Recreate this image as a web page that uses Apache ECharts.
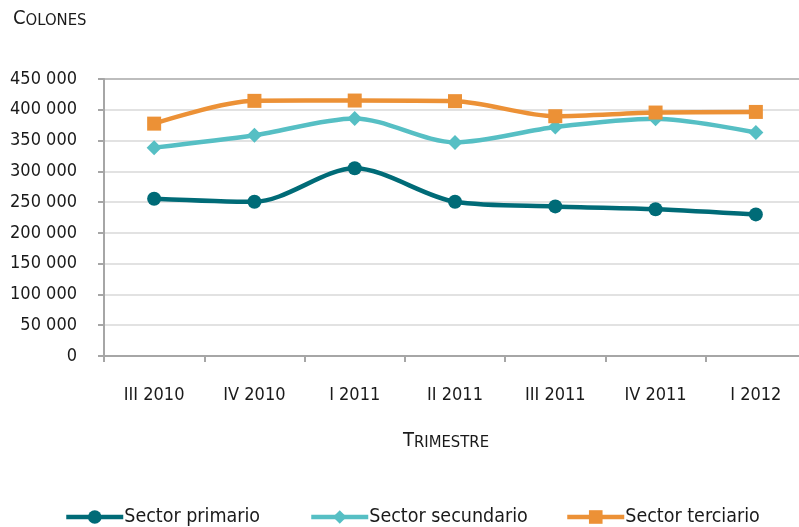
<!DOCTYPE html>
<html>
<head>
<meta charset="utf-8">
<script src="https://cdn.jsdelivr.net/npm/echarts@6/dist/echarts.min.js"></script>
<style>html,body{margin:0;padding:0;background:#fff;overflow:hidden}#c{width:812px;height:527px}</style>
</head>
<body>
<div id="c"></div>
<script>
const categories = ['III 2010','IV 2010','I 2011','II 2011','III 2011','IV 2011','I 2012'];
const primario   = [255500, 250500, 305000, 250500, 243000, 238500, 230000];
const secundario = [338500, 358500, 386000, 347000, 372000, 385500, 363000];
const terciario  = [377500, 414500, 415000, 414000, 389500, 395500, 396500];
const seriesNames = ['Sector primario','Sector secundario','Sector terciario'];
const yTicks = [0, 50000, 100000, 150000, 200000, 250000, 300000, 350000, 400000, 450000];

const FONT = '"DejaVu Sans Condensed", "DejaVu Sans", sans-serif';
const chart = echarts.init(document.getElementById('c'), null, {renderer:'canvas'});
const fmt = v => v === 0 ? '0' : String(v).replace(/\B(?=(\d{3})+(?!\d))/g, ' ');

const gridColors = yTicks.map((v,i)=> i === yTicks.length-1 ? '#bdbdbd' : '#e2e2e2');

function legendAt(name, left){
  return {
    data:[name], left:left, top:507, padding:0, itemWidth:57, itemHeight:17, itemGap:0,
    lineStyle:{width:4.5},
    textStyle:{fontFamily:FONT, fontSize:19.5, color:'#1a1a1a', padding:[3,0,0,-4]}
  };
}
const rich = {
  a:{fontFamily:FONT, fontSize:20, fill:'#1a1a1a', lineHeight:22, verticalAlign:'bottom'},
  b:{fontFamily:FONT, fontSize:16.5, fill:'#1a1a1a', lineHeight:22, verticalAlign:'bottom'}
};

chart.setOption({
  animation:false,
  color:['#006b77','#56bfc4','#ec9136'],
  grid:{left:104, top:79, width:702, height:277},
  graphic:[
    {type:'text', left:13, top:9, style:{rich:rich, text:'{a|C}{b|OLONES}'}},
    {type:'text', left:403, top:431, style:{rich:rich, text:'{a|T}{b|RIMESTRE}'}}
  ],
  legend:[legendAt(seriesNames[0],64), legendAt(seriesNames[1],309), legendAt(seriesNames[2],565)],
  xAxis:{
    type:'category', data:categories, boundaryGap:true,
    axisLine:{lineStyle:{color:'#a6a6a6', width:2}},
    axisTick:{show:true, length:6, lineStyle:{color:'#a6a6a6', width:2}},
    axisLabel:{margin:30, fontFamily:FONT, fontSize:18, color:'#1a1a1a'}
  },
  yAxis:{
    type:'value', min:0, max:450000, interval:50000,
    axisLine:{show:true, lineStyle:{color:'#a6a6a6', width:2}},
    axisTick:{show:true, length:6, lineStyle:{color:'#a6a6a6', width:2}},
    axisLabel:{margin:27, fontFamily:FONT, fontSize:18, color:'#1a1a1a', formatter:fmt},
    splitLine:{show:true, lineStyle:{color:gridColors, width:2}}
  },
  series:[
    {name:seriesNames[0], type:'line', data:primario, smooth:0.3, symbol:'circle', symbolSize:14, lineStyle:{width:4.5}, z:3},
    {name:seriesNames[1], type:'line', data:secundario, smooth:0.3, symbol:'diamond', symbolSize:15, lineStyle:{width:4.5}, z:4},
    {name:seriesNames[2], type:'line', data:terciario, smooth:0.3, symbol:'rect', symbolSize:14, lineStyle:{width:4.5}, z:5}
  ]
});
</script>
</body>
</html>
